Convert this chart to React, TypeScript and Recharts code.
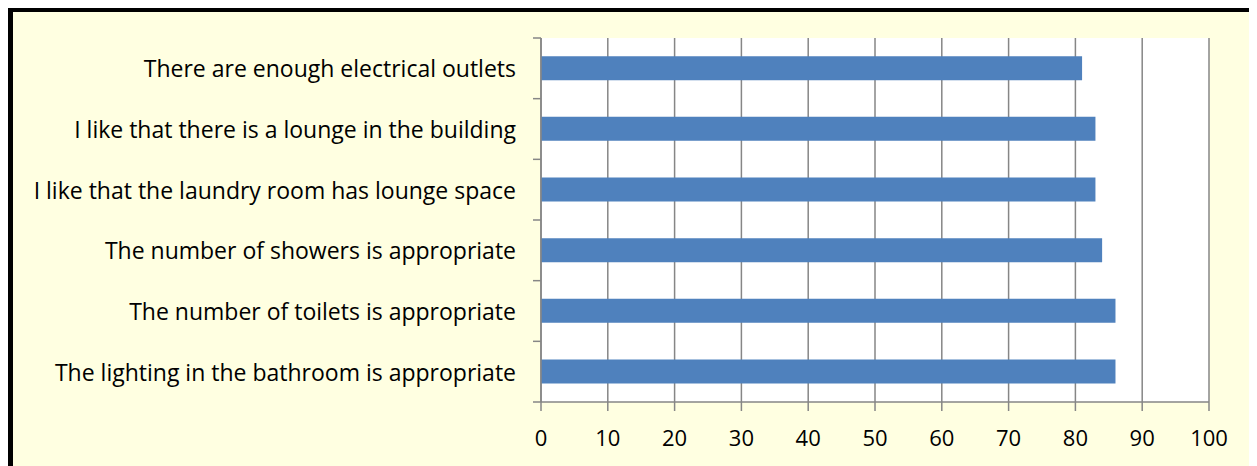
import { BarChart, Bar, XAxis, YAxis, CartesianGrid } from "recharts";

const STATEMENTS = [
  "There are enough electrical outlets",
  "I like that there is a lounge in the building",
  "I like that the laundry room has lounge space",
  "The number of showers is appropriate",
  "The number of toilets is appropriate",
  "The lighting in the bathroom is appropriate",
];

const AGREE_PCT = [81, 83, 83, 84, 86, 86];

const X_TICKS = [0, 10, 20, 30, 40, 50, 60, 70, 80, 90, 100];

const BAR_COLOR = "#4f81bd";
const GRID_COLOR = "#868686";
const FONT = "'Open Sans', Lato, sans-serif";
const TICK_SIZE = 8;
const TICK_MARGIN = 17;

const chartData = STATEMENTS.map((name, i) => ({ name, value: AGREE_PCT[i] }));

// category label, plus Excel-style tick marks on the band boundaries
function CategoryTick(props: any) {
  const { x, y, payload, index, visibleTicksCount } = props;
  const half = payload.offset || 0;
  const x1 = x + TICK_MARGIN;
  const x2 = x1 + TICK_SIZE;
  return (
    <g>
      <text
        x={x}
        y={y}
        textAnchor="end"
        dominantBaseline="central"
        fill="#000"
        fontSize={23}
        fontFamily={FONT}
      >
        {payload.value}
      </text>
      <line x1={x1} x2={x2} y1={y - half} y2={y - half} stroke={GRID_COLOR} strokeWidth={1.5} />
      {index === visibleTicksCount - 1 && (
        <line x1={x1} x2={x2} y1={y + half} y2={y + half} stroke={GRID_COLOR} strokeWidth={1.5} />
      )}
    </g>
  );
}

export default function App() {
  return (
    <div
      style={{
        width: 1242,
        height: 454,
        background: "#ffffe1",
        borderTop: "4px solid #000",
        borderLeft: "5px solid #000",
        borderRight: "2px solid #808080",
        fontFamily: FONT,
      }}
    >
      <BarChart
        width={1242}
        height={454}
        data={chartData}
        layout="vertical"
        margin={{ top: 26, right: 46, bottom: 0, left: 0 }}
        barCategoryGap="30%"
      >
        <CartesianGrid
          horizontal={false}
          stroke={GRID_COLOR}
          strokeWidth={1.5}
          fill="#ffffff"
        />
        <XAxis
          type="number"
          domain={[0, 100]}
          ticks={X_TICKS}
          interval={0}
          height={64}
          tickSize={9}
          tickMargin={19}
          axisLine={{ stroke: GRID_COLOR, strokeWidth: 1.5 }}
          tickLine={{ stroke: GRID_COLOR, strokeWidth: 1.5 }}
          tick={{ fill: "#000", fontSize: 22, fontFamily: FONT }}
        />
        <YAxis
          type="category"
          dataKey="name"
          width={528}
          interval={0}
          tickLine={false}
          axisLine={{ stroke: GRID_COLOR, strokeWidth: 1.5 }}
          tickSize={TICK_SIZE}
          tickMargin={TICK_MARGIN}
          tick={<CategoryTick />}
        />
        <Bar dataKey="value" fill={BAR_COLOR} isAnimationActive={false} />
      </BarChart>
    </div>
  );
}
